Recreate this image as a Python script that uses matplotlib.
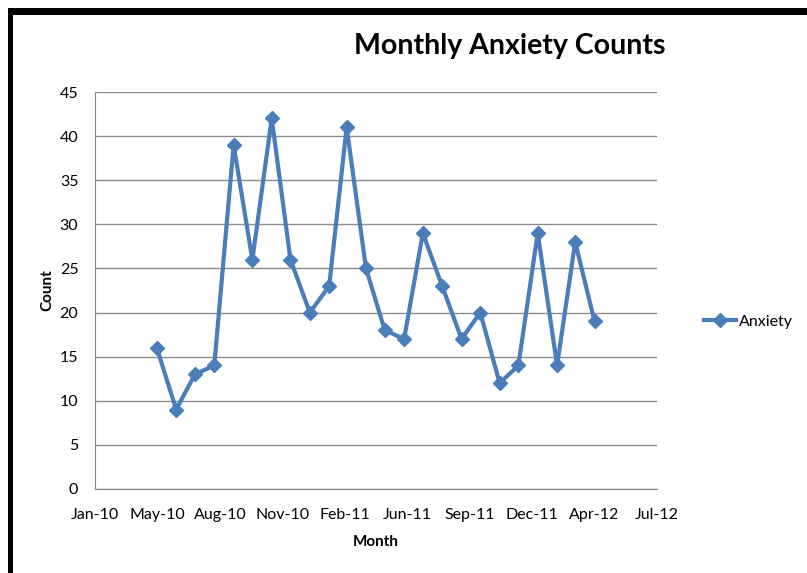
import datetime as dt
import matplotlib
matplotlib.use("Agg")
import matplotlib.pyplot as plt
import matplotlib.dates as mdates
from matplotlib.patches import Rectangle

# monthly counts, May 2010 - Apr 2012
months = [dt.date(2010 + (4 + i) // 12, (4 + i) % 12 + 1, 1) for i in range(24)]
counts = [16, 9, 13, 14, 39, 26, 42, 26, 20, 23, 41, 25,
          18, 17, 29, 23, 17, 20, 12, 14, 29, 14, 28, 19]

plt.rcParams["font.family"] = ["Lato", "DejaVu Sans"]

fig = plt.figure(figsize=(8.07, 5.73), dpi=100)
W, H = 807, 573
ax = fig.add_axes([95 / W, 1 - 489 / H, (657 - 95) / W, (489 - 92) / H])

blue = "#4a7ebb"
ax.plot(months, counts, color=blue, lw=3, marker="D", ms=7, label="Anxiety")

# Excel style date axis: 100-day major unit
x0 = dt.date(2010, 1, 22)
ticks = [x0 + dt.timedelta(days=100 * k) for k in range(10)]
ax.set_xlim(ticks[0], ticks[-1])
ax.set_xticks(ticks)
ax.xaxis.set_major_formatter(mdates.DateFormatter("%b-%y"))
ax.set_ylim(0, 45)
ax.set_yticks(range(0, 46, 5))

ax.grid(axis="y", color="#8c8c8c", lw=1)
ax.set_axisbelow(True)
for s in ["top", "right"]:
    ax.spines[s].set_visible(False)
for s in ["left", "bottom"]:
    ax.spines[s].set_color("#868686")
ax.tick_params(length=0, labelsize=11.5)
ax.tick_params(axis="x", pad=14)
ax.tick_params(axis="y", pad=12)

ax.set_xlabel("Month", fontsize=11, fontweight="bold", labelpad=9)
ax.set_ylabel("Count", fontsize=11, fontweight="bold", labelpad=4)
fig.text(510 / W, 1 - 46 / H, "Monthly Anxiety Counts", fontsize=20.5,
         fontweight="bold", ha="center", va="center")

ax.legend(loc="center left", bbox_to_anchor=(690 / W, 1 - 322 / H),
          bbox_transform=fig.transFigure, frameon=False, fontsize=11.5,
          handlelength=2.0, handletextpad=0.15)

# black frame on left and top
fig.add_artist(Rectangle((8 / W, 0), 5 / W, 1 - 8 / H, transform=fig.transFigure,
                         color="black", lw=0))
fig.add_artist(Rectangle((8 / W, 1 - 15 / H), 1, 7 / H, transform=fig.transFigure,
                         color="black", lw=0))

fig.savefig("out.png", dpi=100)
